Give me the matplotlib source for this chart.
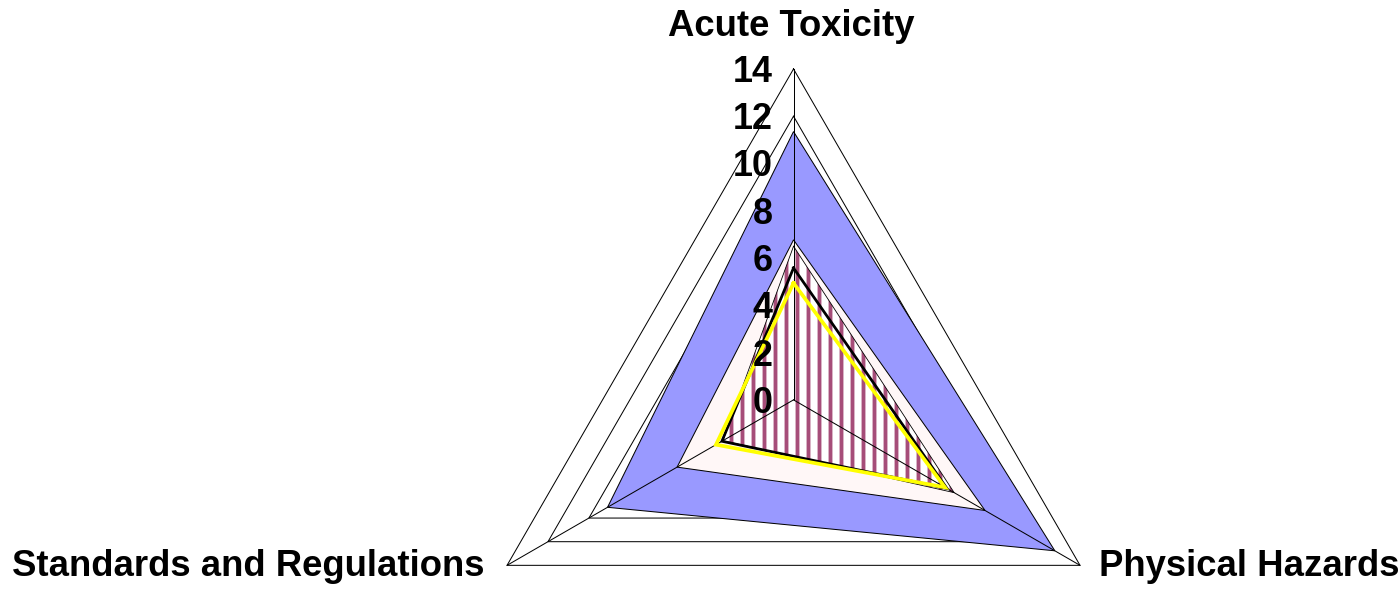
import numpy as np
import matplotlib.pyplot as plt

# --- Radar categories and scale ---
categories = ['Acute Toxicity', 'Physical Hazards', 'Standards and Regulations']
tick_values = [0, 2, 4, 6, 8, 10, 12, 14]

# --- Series values (Acute, Physical, Standards) ---
blue_vals = [11.35, 12.77, 9.09]
pink_vals = [6.77, 9.36, 5.69]
striped_vals = [6.5, 7.85, 3.45]
black_vals = [5.58, 7.5, 3.5]
yellow_vals = [4.94, 7.4, 3.79]

angles = np.radians([90, -30, 210])
r_max = tick_values[-1]


def to_xy(vals, close=False):
    v = np.asarray(vals, dtype=float)
    x, y = v * np.cos(angles), v * np.sin(angles)
    if close:
        x, y = np.append(x, x[0]), np.append(y, y[0])
    return x, y


DPI = 132
plt.rcParams['hatch.linewidth'] = 2.1
plt.rcParams['font.family'] = ['Liberation Sans', 'DejaVu Sans']

fig = plt.figure(figsize=(1399.4 / DPI, 590.4 / DPI), dpi=DPI)
ax = fig.add_axes([0, 0, 1, 1])
px = 330.7 / r_max  # pixels per unit
ax.set_xlim(-793.3 / px, (1399 - 793.3) / px)
ax.set_ylim(-190 / px, 400 / px)
ax.axis('off')

# gridlines (triangles) underneath the filled series
for t in tick_values[1:]:
    gx, gy = to_xy([t] * 3, close=True)
    ax.plot(gx, gy, color='black', lw=0.55, zorder=1)

# filled series
bx, by = to_xy(blue_vals)
ax.fill(bx, by, facecolor='#9999FF', edgecolor='black', lw=0.55, zorder=2)
px_, py_ = to_xy(pink_vals)
ax.fill(px_, py_, facecolor='#FFF7F7', edgecolor='black', lw=0.55, zorder=3)
sx, sy = to_xy(striped_vals)
ax.fill(sx, sy, facecolor='white', edgecolor='#A64D79', hatch='||', lw=0, zorder=4)
sx, sy = to_xy(striped_vals, close=True)
ax.plot(sx, sy, color='black', lw=0.45, zorder=4.5)

# spokes
for a in angles:
    ax.plot([0, r_max * np.cos(a)], [0, r_max * np.sin(a)], color='black', lw=0.55, zorder=5)

# line series
kx, ky = to_xy(black_vals, close=True)
ax.plot(kx, ky, color='black', lw=1.5, solid_joinstyle='miter', zorder=6)
yx, yy = to_xy(yellow_vals, close=True)
ax.plot(yx, yy, color='#FFFF00', lw=2.0, solid_joinstyle='miter', zorder=7)

# value axis labels
for t in tick_values:
    ax.text(-21 / px, t - 12.5 / px, str(t), ha='right', va='baseline',
            fontsize=19.6, fontweight='bold', zorder=8)

# category labels
ax.text(-2.5 / px, r_max + 33.3 / px, categories[0], ha='center', va='baseline',
        fontsize=19.9, fontweight='bold')
ox, oy = to_xy([r_max] * 3)
ax.text(ox[1] + 19 / px, oy[1] - 10.5 / px, categories[1], ha='left', va='baseline',
        fontsize=19.9, fontweight='bold')
ax.text(ox[2] - 23 / px, oy[2] - 10.5 / px, categories[2], ha='right', va='baseline',
        fontsize=19.9, fontweight='bold')

fig.savefig('out.png', dpi=DPI)
